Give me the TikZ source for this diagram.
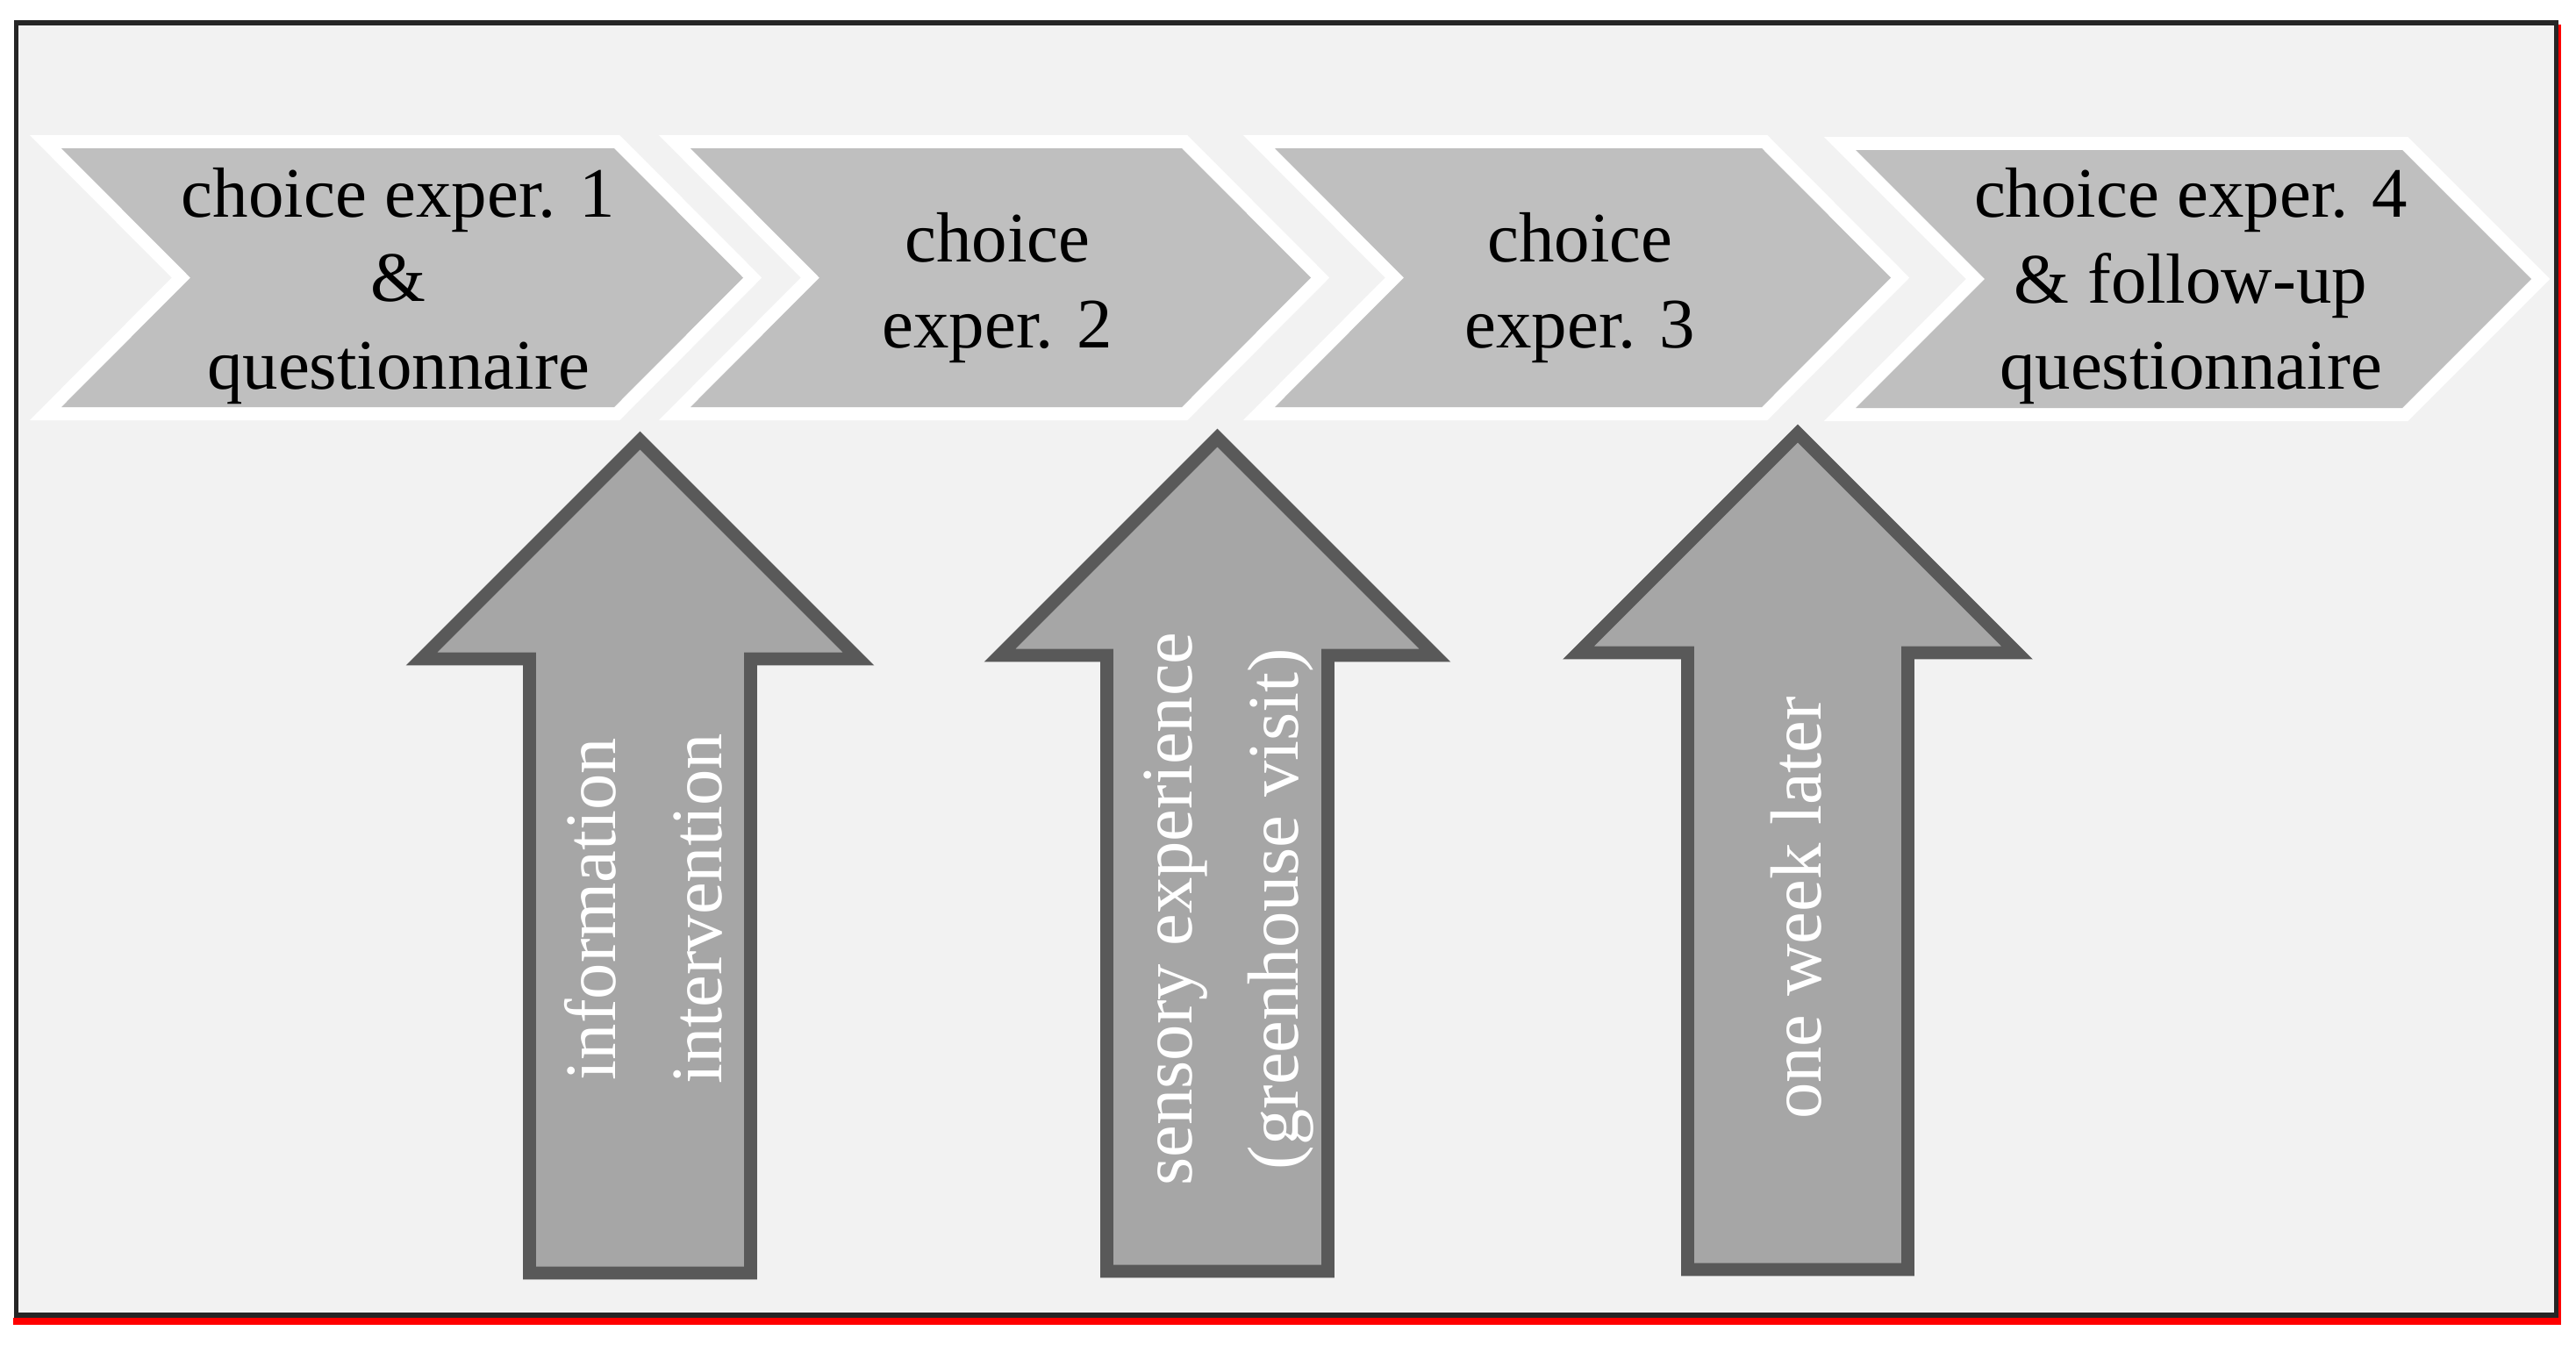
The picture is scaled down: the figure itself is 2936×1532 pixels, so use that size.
\documentclass[tikz,border=0pt]{standalone}
\usepackage{fontspec}
\setmainfont{Liberation Serif}
\definecolor{bgc}{HTML}{F2F2F2}
\definecolor{chevgray}{HTML}{BFBFBF}
\definecolor{arrgray}{HTML}{A6A6A6}
\definecolor{arrdark}{HTML}{595959}
\definecolor{framec}{HTML}{262626}
\definecolor{redc}{HTML}{FF0000}
\begin{document}
\begin{tikzpicture}[x=0.01cm,y=-0.01cm,
  chevtxt/.style={anchor=base, inner sep=0pt, font=\fontsize{23pt}{28pt}\selectfont, text=black},
  arrtxt/.style={anchor=base, inner sep=0pt, rotate=90, font=\fontsize{23.5pt}{28pt}\selectfont, text=white},
  chevedge/.style={draw=white, line width=8.54pt, line join=miter},
  chevbody/.style={fill=chevgray},
  arrshape/.style={fill=arrgray, draw=arrdark, line width=4.2pt, line join=miter}]
\useasboundingbox (0,0) rectangle (2936,1532);
\fill[white] (0,0) rectangle (2936,1532);
\fill[bgc] (18.5,26) rectangle (2913.5,1499);
\draw[redc, line width=2.4pt] (15,1506) -- (2919,1506);
\draw[redc, line width=1.1pt] (2917.5,28) -- (2917.5,1508);
\draw[framec, line width=1.5pt] (18.5,26) rectangle (2913.5,1499);
% chevrons
\foreach \L/\R/\T/\B in {70/700/169/464, 787/1347/169/464, 1453/2008/169/464, 2115/2738/171/465} {
  \draw[chevedge] (\L,\T) -- (\R,\T) -- ({\R+147},{(\T+\B)/2}) -- (\R,\B) -- (\L,\B) -- ({\L+147},{(\T+\B)/2}) -- cycle;
}
\foreach \L/\R/\T/\B in {70/700/169/464, 787/1347/169/464, 1453/2008/169/464, 2115/2738/171/465} {
  \fill[chevbody] (\L,\T) -- (\R,\T) -- ({\R+147},{(\T+\B)/2}) -- (\R,\B) -- (\L,\B) -- ({\L+147},{(\T+\B)/2}) -- cycle;
}
% chevron texts
\node[chevtxt] (c1a) at (454,247) {choice exper. 1};
\node[chevtxt] (c1b) at (454,343) {\&};
\node[chevtxt] (c1c) at (454,443) {questionnaire};
\node[chevtxt] (c2a) at (1137,298) {choice};
\node[chevtxt] (c2b) at (1137,396) {exper. 2};
\node[chevtxt] (c3a) at (1801,298) {choice};
\node[chevtxt] (c3b) at (1801,396) {exper. 3};
\node[chevtxt] (c4a) at (2497,247) {choice exper. 4};
\node[chevtxt] (c4b) at (2497,345) {\& follow-up};
\node[chevtxt] (c4c) at (2497,443) {questionnaire};
% arrows
\foreach \c/\tp/\bs/\hw/\sw/\bt in {729.5/502/751/249/126/1451, 1387.5/499/747/248/126/1449, 2049/494/744/250/125.5/1447} {
  \draw[arrshape] (\c,\tp) -- ({\c+\hw},\bs) -- ({\c+\sw},\bs) -- ({\c+\sw},\bt) -- ({\c-\sw},\bt) -- ({\c-\sw},\bs) -- ({\c-\hw},\bs) -- cycle;
}
% arrow texts
\node[arrtxt] (a1a) at (701,1036) {information};
\node[arrtxt] (a1b) at (822,1036) {intervention};
\node[arrtxt] (a2a) at (1358,1036) {sensory experience};
\node[arrtxt] (a2b) at (1479,1036) {(greenhouse visit)};
\node[arrtxt] (a3a) at (2075,1035) {one week later};
\end{tikzpicture}
\end{document}
